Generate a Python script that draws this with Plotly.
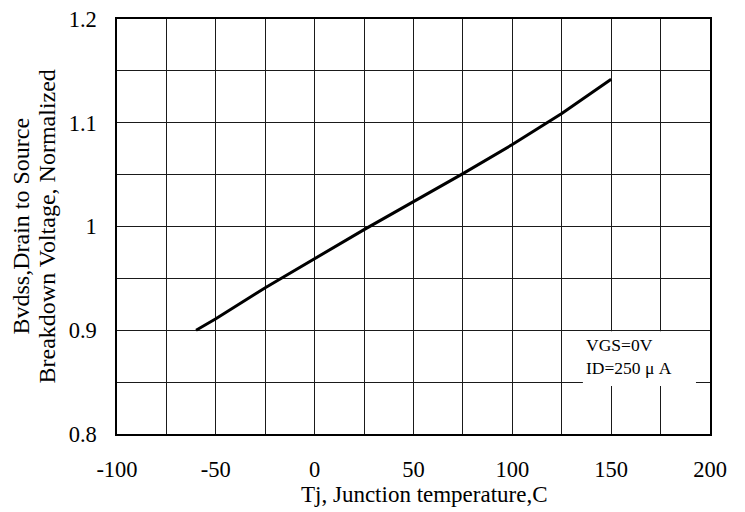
import plotly.graph_objects as go

# Data
temp_c = [-60, -50, -25, -10, 0, 25, 50, 75, 100, 125, 150]
bvdss_norm = [0.900, 0.911, 0.941, 0.958, 0.969, 0.997, 1.024, 1.051, 1.079, 1.109, 1.142]

x_tick_vals = [-100, -50, 0, 50, 100, 150, 200]
x_tick_text = ["-100", "-50", "0", "50", "100", "150", "200"]
y_tick_vals = [0.8, 0.9, 1.0, 1.1, 1.2]
y_tick_text = ["0.8", "0.9", "1", "1.1", "1.2"]

x_title = "Tj, Junction temperature,C"
y_title_lines = ["Bvdss,Drain to Source", "Breakdown Voltage, Normalized"]
note_text = "VGS=0V<br>ID=250 \u03bc A"

FONT = "Liberation Serif"

fig = go.Figure()
fig.add_trace(go.Scatter(
    x=temp_c, y=bvdss_norm, mode="lines",
    line=dict(color="black", width=3),
    showlegend=False, hoverinfo="skip",
))

grid_color = "#1a1a1a"
fig.update_xaxes(
    range=[-100, 200], tickvals=x_tick_vals, ticktext=x_tick_text,
    showgrid=True, gridcolor=grid_color, gridwidth=1,
    minor=dict(dtick=25, tick0=-100, showgrid=True, gridcolor=grid_color, gridwidth=1),
    showline=True, linecolor="black", linewidth=1.5, mirror=True,
    ticks="", ticklabelstandoff=14, zeroline=False, automargin=False,
    tickfont=dict(family=FONT, size=22.5, color="black"),
)
fig.update_yaxes(
    range=[0.8, 1.2], tickvals=y_tick_vals, ticktext=y_tick_text,
    showgrid=True, gridcolor=grid_color, gridwidth=1,
    minor=dict(dtick=0.05, tick0=0.8, showgrid=True, gridcolor=grid_color, gridwidth=1),
    showline=True, linecolor="black", linewidth=1.5, mirror=True,
    ticks="", ticklabelstandoff=14, zeroline=False, automargin=False,
    tickfont=dict(family=FONT, size=22.5, color="black"),
)

# white box behind the condition note
fig.add_shape(type="rect", xref="x", yref="y", x0=135.7, x1=192.9, y0=0.8463, y1=0.899,
              fillcolor="white", line=dict(width=0), layer="above")

fig.add_annotation(x=136.3, y=0.8747, xref="x", yref="y", text=note_text,
                   showarrow=False, xanchor="left", yanchor="middle", align="left",
                   font=dict(family=FONT, size=17.5, color="black"))

fig.add_annotation(x=(424 - 117) / 593, y=(434 - 494) / 415, xref="paper", yref="paper",
                   text=x_title, showarrow=False, xanchor="center", yanchor="middle",
                   font=dict(family=FONT, size=23, color="black"))
for px, line in zip([20, 46], y_title_lines):
    fig.add_annotation(x=(px - 117) / 593, y=0.5, xref="paper", yref="paper",
                       text=line, showarrow=False, textangle=-90,
                       xanchor="center", yanchor="middle",
                       font=dict(family=FONT, size=24, color="black"))

fig.update_layout(
    width=745, height=512,
    margin=dict(l=117, r=35, t=19, b=78),
    paper_bgcolor="white", plot_bgcolor="white",
    font=dict(family=FONT, color="black"),
)

fig.write_html("out.html", config={"displayModeBar": False},
               post_script="document.body.style.margin='0';")
